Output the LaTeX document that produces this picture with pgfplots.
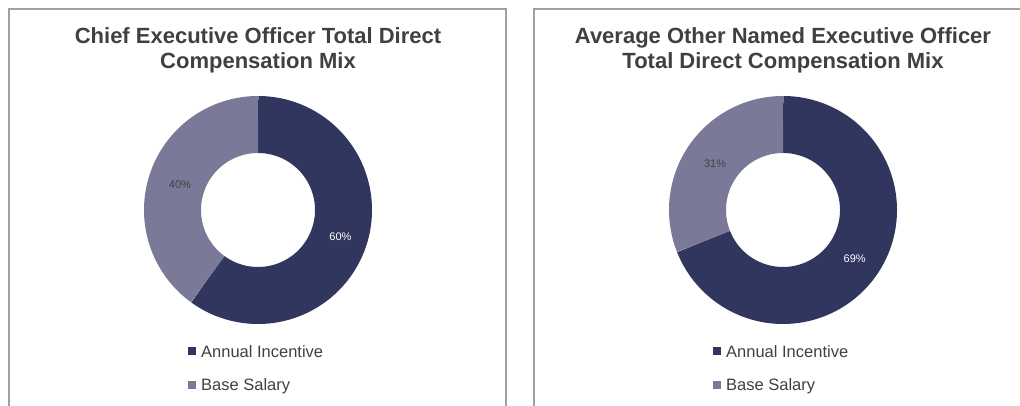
\documentclass[border=0pt]{standalone}
\usepackage{pgfplots}
\usepackage{pgfplotstable}
\pgfplotsset{compat=1.18}
\usepackage{fontspec}
\setmainfont{Liberation Sans}
\definecolor{navy}{HTML}{30365E}
\definecolor{slate}{HTML}{7A7A98}
\definecolor{frame}{HTML}{A0A0A0}
\definecolor{txt}{HTML}{404040}

\pgfplotstableread{
label value
Annual 60
Base 40
}\ceodata
\pgfplotstableread{
label value
Annual 69
Base 31
}\neodata

\newcommand{\donut}[3]{% #1 table, #2 center x, #3 center y
  \pgfplotstablegetelem{0}{value}\of{#1}\edef\va{\pgfplotsretval}%
  \pgfplotstablegetelem{1}{value}\of{#1}\edef\vb{\pgfplotsretval}%
  \pgfmathsetmacro{\aend}{90-\va*3.6}%
  \pgfmathsetmacro{\bend}{\aend-\vb*3.6}%
  \pgfmathsetmacro{\amid}{(90+\aend)/2}%
  \pgfmathsetmacro{\bmid}{(\aend+\bend)/2}%
  \begin{axis}[at={(#2pt,#3pt)}, anchor=center, x=114pt, y=114pt,
    xmin=-1.2, xmax=1.2, ymin=-1.2, ymax=1.2, hide axis, clip=false]
    \addplot[navy, line width=57pt, line cap=butt, domain=\aend:90, samples=200, variable=\t]
      ({0.75*cos(t)}, {0.75*sin(t)});
    \addplot[slate, line width=57pt, line cap=butt, domain=\bend:\aend, samples=200, variable=\t]
      ({0.75*cos(t)}, {0.75*sin(t)});
    \node[white, font=\fontsize{11}{12}\selectfont] at (axis cs:{0.76*cos(\amid)},{0.76*sin(\amid)}) {\va\%};
    \node[txt, font=\fontsize{11}{12}\selectfont] at (axis cs:{0.72*cos(\bmid)},{0.72*sin(\bmid)}) {\vb\%};
  \end{axis}
}

\begin{document}
\begin{tikzpicture}[x=1pt, y=1pt]
  \path[use as bounding box] (0,0) rectangle (1020,406);
  % panel frames
  \draw[frame, line width=2pt] (9,-5) -- (9,397) -- (506,397) -- (506,-5);
  \draw[frame, line width=2pt] (534,-5) -- (534,397) -- (1025,397);
  % titles
  \node[font=\bfseries\fontsize{22}{25}\selectfont, color=txt, align=center] at (258,356)
    {Chief Executive Officer Total Direct\\Compensation Mix};
  \node[font=\bfseries\fontsize{22}{25}\selectfont, color=txt, align=center] at (783,356)
    {Average Other Named Executive Officer\\Total Direct Compensation Mix};
  \donut{\ceodata}{258}{196}
  \donut{\neodata}{783}{196}
  % legends
  \foreach \cx in {192,717}{
    \fill[navy] (\cx-4,55-4) rectangle (\cx+4,55+4);
    \node[anchor=west, txt, font=\fontsize{16.5}{18}\selectfont, inner sep=0pt] at (\cx+9,54) {Annual Incentive};
    \fill[slate] (\cx-4,21-4) rectangle (\cx+4,21+4);
    \node[anchor=west, txt, font=\fontsize{16.5}{18}\selectfont, inner sep=0pt] at (\cx+9,20) {Base Salary};
  }
\end{tikzpicture}
\end{document}
